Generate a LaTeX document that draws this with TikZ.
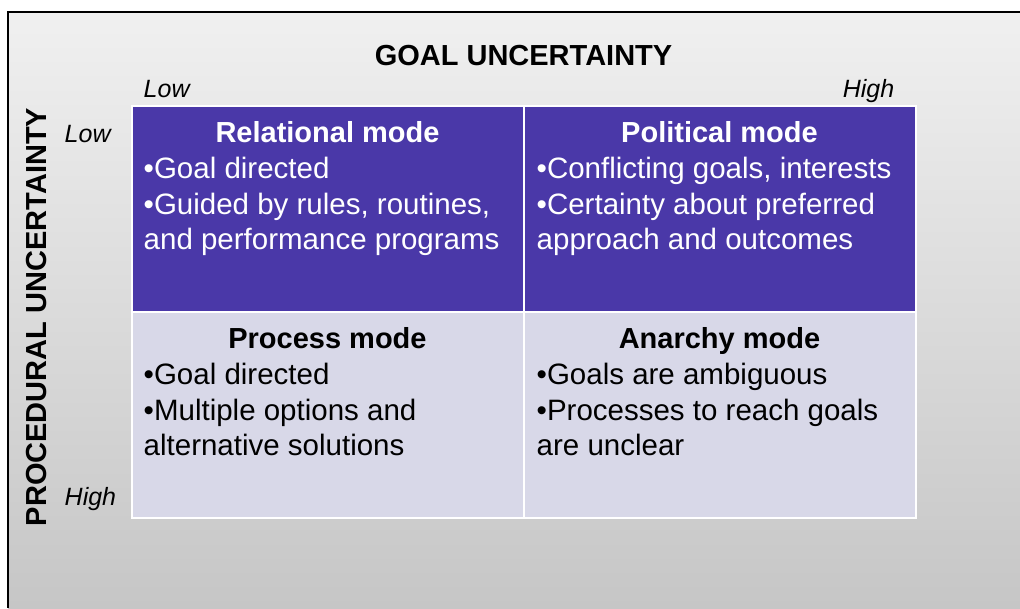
\documentclass[tikz,border=0pt]{standalone}
\usepackage{fontspec}
\setmainfont{Liberation Sans}
\usetikzlibrary{positioning}
\definecolor{modeblue}{HTML}{4A38A8}
\definecolor{modepale}{HTML}{D8D8E8}
\definecolor{paneltop}{HTML}{F0F0F0}
\definecolor{panelbottom}{HTML}{C6C6C6}
\begin{document}
\begin{tikzpicture}[x=1pt, y=-1pt,
			base/.style={draw=white, line width=2pt, inner sep=0pt, outer sep=0pt, minimum width=392pt, minimum height=206pt},
			upper/.style={base, fill=modeblue},
			lower/.style={base, fill=modepale},
			heading/.style={font=\fontsize{29}{35.5}\bfseries\selectfont, inner sep=0pt, anchor=base},
			points/.style={font=\fontsize{29.5}{35.5}\selectfont, inner sep=0pt, align=left, anchor=north west},
			axis/.style={font=\fontsize{29}{35.5}\bfseries\selectfont, inner sep=0pt},
			level/.style={font=\fontsize{25}{30}\itshape\selectfont, inner sep=0pt},
		]

		\useasboundingbox (0,0) rectangle (1020,608);
		\shade[top color=paneltop, bottom color=panelbottom] (8,12) rectangle (1020,608);
		\draw[line width=1.5pt] (8,608) -- (8,12) -- (1020,12);

		\node[upper] (relational) at (327.5,209) {};
		\node[upper, right=0pt of relational] (political) {};
		\node[lower, below=0pt of relational] (process) {};
		\node[lower, right=0pt of process] (anarchy) {};

		\node[heading, white, yshift=-36pt] (relational title) at (relational.north) {Relational mode};
		\node[heading, white, yshift=-36pt] (political title) at (political.north) {Political mode};
		\node[heading, yshift=-36pt] (process title) at (process.north) {Process mode};
		\node[heading, yshift=-36pt] (anarchy title) at (anarchy.north) {Anarchy mode};

		\node[points, white, xshift=12pt, yshift=-51pt] (relational text) at (relational.north west) {\textbullet Goal directed\\\textbullet Guided by rules, routines,\\and performance programs};
		\node[points, white, xshift=13pt, yshift=-51pt] (political text) at (political.north west) {\textbullet Conflicting goals, interests\\\textbullet Certainty about preferred\\approach and outcomes};
		\node[points, xshift=12pt, yshift=-51pt] (process text) at (process.north west) {\textbullet Goal directed\\\textbullet Multiple options and\\alternative solutions};
		\node[points, xshift=13pt, yshift=-51pt] (anarchy text) at (anarchy.north west) {\textbullet Goals are ambiguous\\\textbullet Processes to reach goals\\are unclear};

		\node[axis, anchor=base, yshift=41pt] (goal) at (relational.north east) {GOAL UNCERTAINTY};
		\node[axis, rotate=90] (procedural) at ([shift={(-95pt,-5pt)}]relational.south west) {PROCEDURAL UNCERTAINTY};

		\node[level, anchor=base west, xshift=12pt, yshift=9pt] (goal low) at (relational.north west) {Low};
		\node[level, anchor=base east, xshift=-21pt, yshift=9pt] (goal high) at (political.north east) {High};
		\node[level, anchor=base west, xshift=-67pt, yshift=-36pt] (procedural low) at (relational.north west) {Low};
		\node[level, anchor=base west, xshift=-67pt, yshift=13pt] (procedural high) at (process.south west) {High};

		\end{tikzpicture}
\end{document}
